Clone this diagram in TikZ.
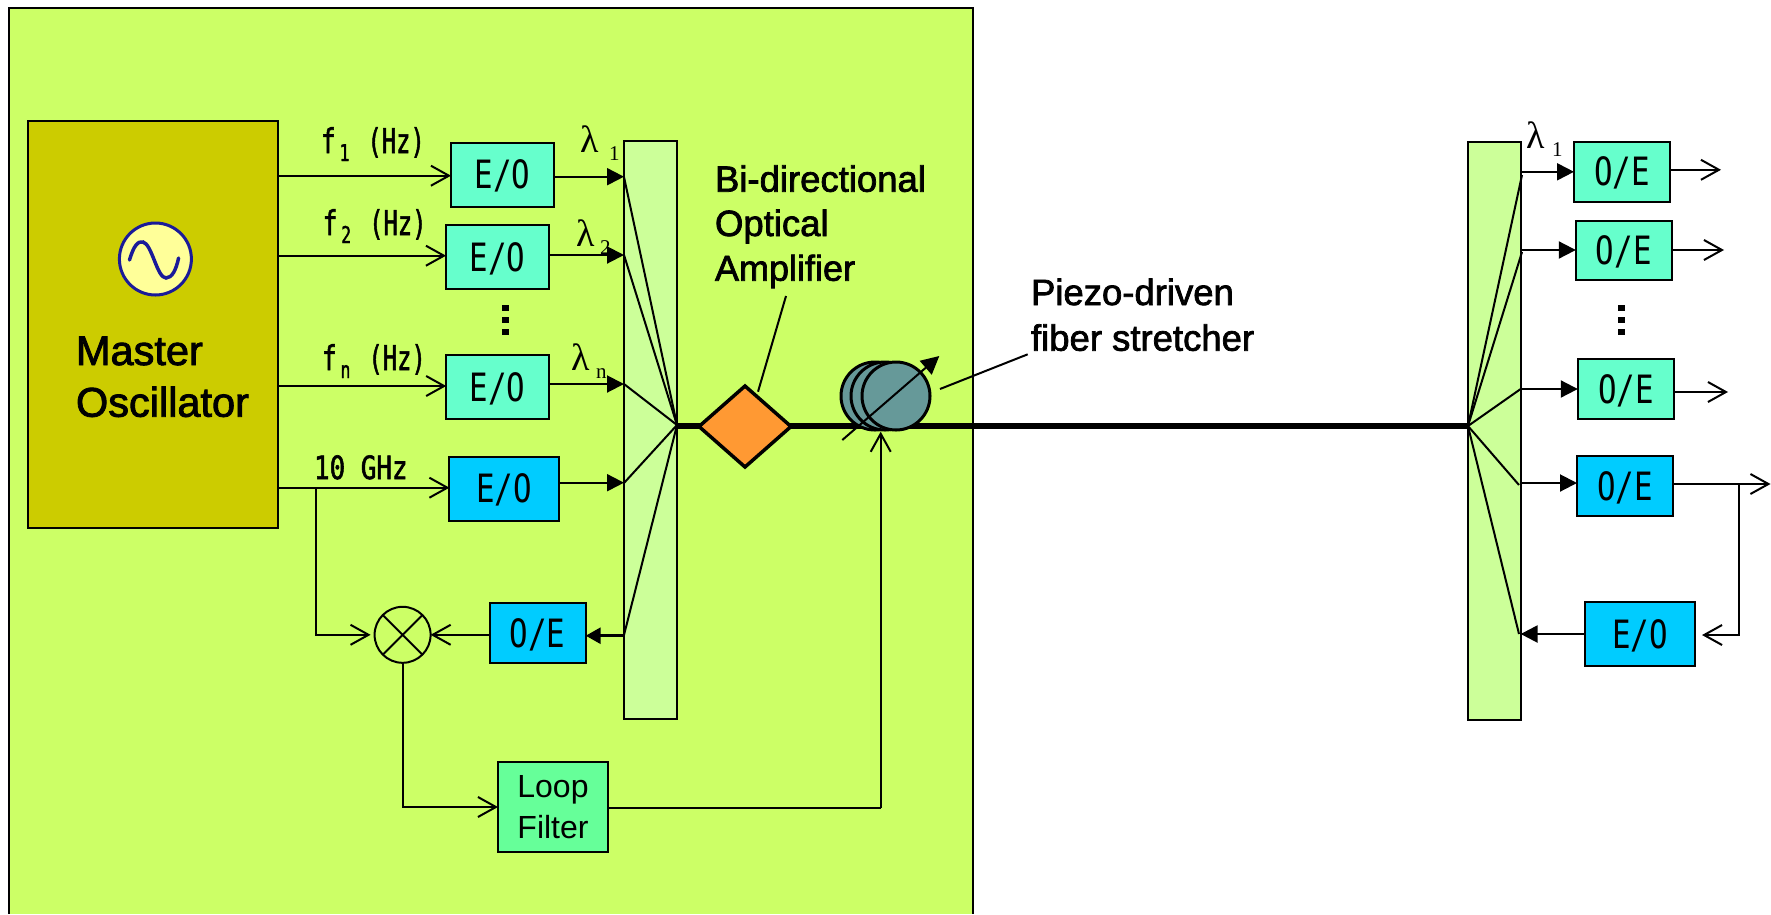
\documentclass[tikz,border=0pt]{standalone}
\usepackage{fontspec}
\usepackage{graphicx}
\usetikzlibrary{arrows.meta,shapes.geometric}
\newfontfamily\gthfont[FakeBold=2]{DejaVu Sans Mono}
\newfontfamily\gthlight{DejaVu Sans Mono}
\newfontfamily\propfont[FakeBold=2]{Liberation Sans}
\newfontfamily\plainfont{Liberation Sans}
\newfontfamily\serfont{Liberation Serif}
\newcommand\goth[3]{{\gthfont\fontsize{#1}{#1}\selectfont\scalebox{#2}[1]{#3}}}
\newcommand\boxtxt[1]{{\gthlight\fontsize{39}{39}\selectfont\scalebox{.79}[1]{#1}}}
\newcommand\flabel[2]{\makebox[18.5pt][l]{\goth{34}{.72}{f}}\makebox[28pt][l]{\raisebox{-8pt}{\goth{23}{.72}{#1}}}\goth{34}{.7}{(Hz)}}
\newcommand\lamlabel[2]{{\serfont\fontsize{38}{38}\selectfont\makebox[#2][l]{λ}\raisebox{-8pt}{\fontsize{21}{21}\selectfont #1}}}
\definecolor{panelc}{HTML}{CCFF66}
\definecolor{tallc}{HTML}{CCFF99}
\definecolor{tealc}{HTML}{66FFCC}
\definecolor{bluec}{HTML}{00CCFF}
\definecolor{loopc}{HTML}{66FF99}
\definecolor{masterc}{HTML}{CCCC00}
\definecolor{oscc}{HTML}{FFFF99}
\definecolor{navyc}{HTML}{1A1A99}
\definecolor{amberc}{HTML}{FF9933}
\definecolor{coilc}{HTML}{669999}
\tikzset{
  base/.style={draw=black,line width=2pt,inner sep=0pt,outer sep=0pt},
  tealbox/.style={base,fill=tealc,text height=28pt,text depth=0pt},
  bluebox/.style={base,fill=bluec,text height=28pt,text depth=0pt},
  tallbox/.style={base,fill=tallc},
  coil/.style={circle,draw=black,line width=3pt,fill=coilc,minimum size=68pt,inner sep=0pt,outer sep=0pt},
  lbl/.style={anchor=base west,inner sep=0pt,outer sep=0pt},
  wire/.style={line width=2pt,black},
  fan/.style={line width=2pt,black},
  open/.style={wire,-{Straight Barb[length=18pt,width=20pt,line width=2pt]}},
  solid tip/.style={wire,-{Triangle[length=17pt,width=17pt]}},
}
\begin{document}
\begin{tikzpicture}[x=1pt,y=-1pt]
\clip (0,0) rectangle (1771,914);
\fill[white] (0,0) rectangle (1771,914);
\fill[panelc] (9,8) rectangle (973,914);
\draw[line width=2pt] (9,914) -- (9,8) -- (973,8) -- (973,914);

% nodes
\node[base,fill=masterc,minimum width=250pt,minimum height=407pt] (master) at (152.7,324.5) {};
\node[circle,draw=navyc,line width=3pt,fill=oscc,minimum size=72pt,inner sep=0pt] (osc) at (155.4,259) {};
\node[lbl,font=\propfont\fontsize{41.5}{51}\selectfont] (mastertxt) at (76,365) {Master};
\node[lbl,font=\propfont\fontsize{41.5}{51}\selectfont] (osctxt) at (76,416.7) {Oscillator};

\node[tealbox,minimum width=102.6pt,minimum height=64pt] (e1) at (502.3,174.7) {\boxtxt{E/O}};
\node[tealbox,minimum width=103pt,minimum height=64pt] (e2) at (497.5,257) {\boxtxt{E/O}};
\node[tealbox,minimum width=103pt,minimum height=64pt] (en) at (497.7,387) {\boxtxt{E/O}};
\node[bluebox,minimum width=109.5pt,minimum height=63.7pt] (e10) at (504.2,488.8) {\boxtxt{E/O}};
\node[bluebox,minimum width=96pt,minimum height=60pt] (oeL) at (537.7,633) {\boxtxt{O/E}};
\node[base,fill=loopc,minimum width=110pt,minimum height=90pt,align=center,font=\plainfont\fontsize{32}{41}\selectfont] (loop) at (553,807) {Loop\\Filter};
\node[tallbox,minimum width=53pt,minimum height=578pt] (t1) at (650.5,430) {};
\node[tallbox,minimum width=52.7pt,minimum height=578pt] (t2) at (1494.3,430.6) {};
\node[tealbox,minimum width=96pt,minimum height=60pt] (oe1) at (1622,171.5) {\boxtxt{O/E}};
\node[tealbox,minimum width=96pt,minimum height=59pt] (oe2) at (1623.8,250.5) {\boxtxt{O/E}};
\node[tealbox,minimum width=96pt,minimum height=60pt] (oen) at (1625.8,389) {\boxtxt{O/E}};
\node[bluebox,minimum width=96pt,minimum height=60pt] (oe10) at (1625,486) {\boxtxt{O/E}};
\node[bluebox,minimum width=110pt,minimum height=64pt] (eoR) at (1640,634) {\boxtxt{E/O}};

\node[circle,draw=black,line width=2pt,minimum size=56pt,inner sep=0pt,outer sep=0pt] (mix) at (402.6,634.8) {};
\draw[wire] (mix.45) -- (mix.225) (mix.135) -- (mix.315);

% sine
\draw[navyc,line width=3.5pt,line cap=round] (129.5,260) .. controls (134,245) and (138,241) .. (143,242) .. controls (152,244) and (157,278) .. (166,278) .. controls (172,278) and (176,270) .. (178.6,258);

% master outputs
\draw[open] (master.east |- 0,175.7) -- (e1.west |- 0,175.7);
\draw[open] (master.east |- 0,255.7) -- (e2.west |- 0,255.7);
\draw[open] (master.east |- 0,386) -- (en.west |- 0,386);
\draw[open] (master.east |- 0,487.7) -- (e10.west |- 0,487.7);
\coordinate (tap) at (315.5,487.7);
\draw[open,shorten >=4pt] (tap) |- (mix.west);
\draw[open] (oeL.west |- mix.east) -- (mix.east);
\draw[open] (mix.south) |- (loop.west |- 0,807);
\draw[wire] (loop.east |- 0,808) -- (880.7,808) coordinate (fbk);

% E/O to left mux
\draw[solid tip] (e1.east |- 0,176.7) -- (t1.west |- 0,176.7);
\draw[solid tip] (e2.east |- 0,255) -- (t1.west |- 0,255);
\draw[solid tip] (en.east |- 0,384) -- (t1.west |- 0,384);
\draw[solid tip] (e10.east |- 0,482.7) -- (t1.west |- 0,482.7);
\draw[wire,line width=3pt,-{Triangle[length=15pt,width=16pt]}] (t1.west |- 0,635.7) -- (oeL.east |- 0,635.7);

% fan left
\coordinate (fanL) at (t1.east |- 0,425);
\foreach \y in {177,255,384,483,635} \draw[fan] (t1.west |- 0,\y) -- (fanL);

% fan right
\coordinate (fanR) at (t2.west |- 0,426);
\draw[fan] (fanR) -- (1522,175);
\draw[fan] (fanR) -- (1522,252);
\draw[fan] (fanR) -- (t2.east |- 0,389);
\draw[fan] (fanR) -- (1519,485);
\draw[fan] (fanR) -- (1519,634);

% fibre and in-line parts
\draw[line width=6pt] (t1.east |- 0,426) -- (t2.west |- 0,426);
\node[diamond,draw=black,line width=3.5pt,fill=amberc,minimum width=92pt,minimum height=81pt,inner sep=0pt,outer sep=0pt] (amp) at (745,426.5) {};
\node[coil] (c1) at (875,396) {};
\node[coil] (c2) at (885,396) {};
\node[coil] (c3) at (896,396) {};
\coordinate (strA) at (842.3,440);
\coordinate (strB) at (939.3,356);
\draw[wire,-{Triangle[length=18pt,width=18pt]}] (strA) -- (strB);
\draw[open] (fbk) -- (880.7,431.7);

% right side arrows
\draw[solid tip] (t2.east |- 0,171.8) -- (oe1.west |- 0,171.8);
\draw[solid tip] (t2.east |- 0,250) -- (oe2.west |- 0,250);
\draw[solid tip] (t2.east |- 0,389) -- (oen.west |- 0,389);
\draw[solid tip] (t2.east |- 0,483) -- (oe10.west |- 0,483);
\draw[wire,line width=2.5pt,-{Triangle[length=17pt,width=17pt]}] (eoR.west |- 0,634) -- (t2.east |- 0,634);
\coordinate (out1) at (1721,169.8);
\coordinate (out2) at (1724,250);
\coordinate (outn) at (1728,392);
\coordinate (out10) at (1770.5,484);
\draw[open] (oe1.east |- out1) -- (out1);
\draw[open] (oe2.east |- out2) -- (out2);
\draw[open] (oen.east |- outn) -- (outn);
\draw[open] (oe10.east |- out10) -- (out10);
\coordinate (tapR) at (1739,484);
\draw[open,shorten >=7pt] (tapR) |- (eoR.east |- 0,635);

% ellipsis marks
\foreach \y in {308,320,332} {\fill (501.5,\y-3) rectangle (508.5,\y+3); \fill (1618,\y-3) rectangle (1624.5,\y+3);}

% labels
\node[lbl] (lf1) at (321,153) {\flabel{1}{}};
\node[lbl] (lf2) at (322.7,235) {\flabel{2}{}};
\node[lbl] (lfn) at (322,370) {\flabel{n}{}};
\node[lbl] (lf10) at (314,479) {\goth{32}{.81}{10 GHz}};
\node[lbl] (la1) at (580,152) {\lamlabel{1}{29pt}};
\node[lbl] (la2) at (576,246.7) {\lamlabel{2}{24pt}};
\node[lbl] (lan) at (571,370) {\lamlabel{n}{25pt}};
\node[lbl] (lar) at (1526,148) {\lamlabel{1}{26pt}};

\node[lbl,font=\propfont\fontsize{36.5}{36.5}\selectfont] (bi) at (715,191.7) {Bi-directional};
\node[lbl,font=\propfont\fontsize{36.5}{36.5}\selectfont] (op) at (715,236) {Optical};
\node[lbl,font=\propfont\fontsize{36}{36}\selectfont] (am) at (715,280.7) {Amplifier};
\node[lbl,font=\propfont\fontsize{36.5}{36.5}\selectfont] (pz) at (1031,305) {Piezo-driven};
\node[lbl,font=\propfont\fontsize{36.5}{36.5}\selectfont] (fb) at (1031,350.7) {fiber stretcher};

% leaders
\coordinate (ampTop) at (758,391.7);
\coordinate (ampLbl) at (786,296);
\draw[wire] (ampLbl) -- (ampTop);
\coordinate (pzLbl) at (1027.7,354.3);
\coordinate (pzEnd) at (940,389);
\draw[wire] (pzLbl) -- (pzEnd);
\end{tikzpicture}
\end{document}
